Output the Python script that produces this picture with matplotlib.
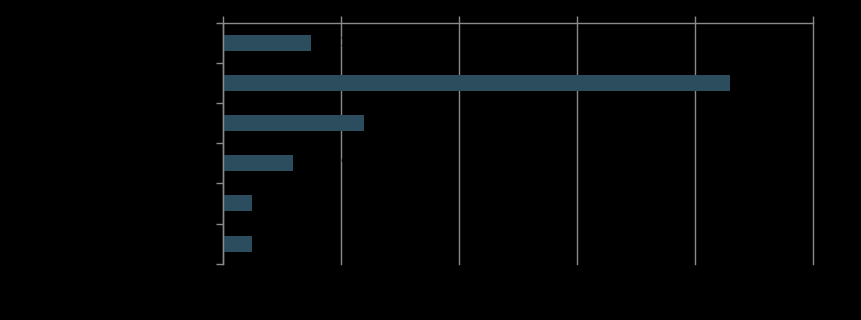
import numpy as np
import matplotlib.pyplot as plt
from matplotlib.ticker import FixedLocator

# values (text in the reference is black on a black background)
categories = ["Category A", "Category B", "Category C", "Category D", "Category E", "Category F"]
counts = [15, 86, 24, 12, 5, 5]
x_ticks = [0, 20, 40, 60, 80, 100]

total = sum(counts)
bar_labels = [f"{c} ({c / total * 100:.1f}%)" for c in counts]

fig = plt.figure(figsize=(8.62, 3.2), dpi=100, facecolor="black")
ax = fig.add_axes([222.7 / 862, 1 - 263.7 / 320, 590 / 862, 241 / 320])
ax.set_facecolor("black")

y = np.arange(len(categories))
ax.barh(y, counts, height=0.4, color="#2c4d5d", zorder=2)
for yi, c, lab in zip(y, counts, bar_labels):
    ax.text(c + 1, yi, lab, va="center", ha="left", fontsize=8.5, color="black", zorder=3)

ax.set_xlim(0, 100)
ax.set_ylim(len(categories) - 0.5, -0.5)
ax.xaxis.tick_top()
ax.set_xticks(x_ticks)
ax.grid(axis="x", color="#8a8a8a", linewidth=1, zorder=1)
for gl in ax.get_xgridlines():
    gl.set_clip_on(False)

ax.set_yticks(y)
ax.set_yticklabels(categories)
ax.yaxis.set_minor_locator(FixedLocator(np.arange(-0.5, len(categories), 1)))
ax.tick_params(axis="y", which="major", length=0, pad=8, labelsize=9, labelcolor="black")
ax.tick_params(axis="y", which="minor", length=5, width=1, color="#8a8a8a")
ax.tick_params(axis="x", length=5, width=1, color="#8a8a8a", labelsize=9, labelcolor="black", pad=2)

for s in ["right", "bottom"]:
    ax.spines[s].set_visible(False)
for s in ["top", "left"]:
    ax.spines[s].set_color("#8a8a8a")
    ax.spines[s].set_linewidth(1)

plt.savefig("out.png", dpi=100, facecolor="black")
